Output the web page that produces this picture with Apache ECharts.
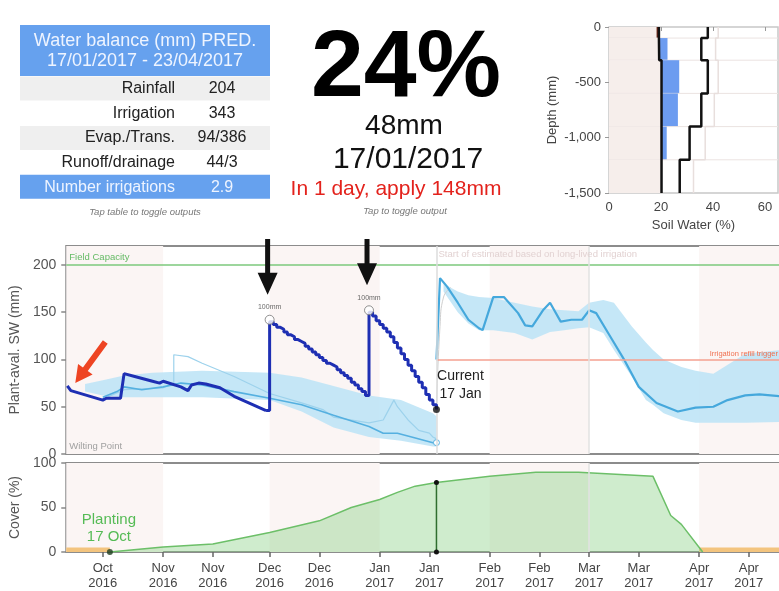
<!DOCTYPE html>
<html><head><meta charset="utf-8">
<script src="https://cdn.jsdelivr.net/npm/echarts@6/dist/echarts.min.js"></script>
<style>html,body{margin:0;padding:0;background:#fff}#c{width:779px;height:591px}</style>
</head><body><div id="c"></div>
<script>
const FONT = '"Liberation Sans", Arial, Helvetica, sans-serif';

// ---------- table ----------
const tableTitle = ['Water balance (mm) PRED.', '17/01/2017 - 23/04/2017'];
const tableLabels = ['Rainfall', 'Irrigation', 'Evap./Trans.', 'Runoff/drainage', 'Number irrigations'];
const tableValues = ['204', '343', '94/386', '44/3', '2.9'];
const tableNote = 'Tap table to toggle outputs';

// ---------- headline ----------
const headlinePct = '24%';
const headlineMm = '48mm';
const headlineDate = '17/01/2017';
const headlineAdvice = 'In 1 day, apply 148mm';
const headlineNote = 'Tap to toggle output';

// ---------- soil profile ----------
const layerTop = [0, 100, 300, 600, 900, 1200];
const layerBottom = [100, 300, 600, 900, 1200, 1500];
const wiltingPct = [19.2, 19.3, 20.2, 20.2, 20.2, 20.2];
const fieldCapPct = [38, 35.5, 38, 35.5, 31, 27.2];
const saturationPct = [42, 41, 42, 40.5, 37, 32.5];
const currentPct = [18.3, 22.5, 27, 26.5, 22.2, 20.2];
const soilWaterTicks = [0, 20, 40, 60];

// ---------- time axis ----------
const dateTicks = ['2016-10-15', '2016-11-01', '2016-11-15', '2016-12-01', '2016-12-15', '2017-01-01',
  '2017-01-15', '2017-02-01', '2017-02-15', '2017-03-01', '2017-03-15', '2017-04-01', '2017-04-15'];
const monthNames = ['Jan', 'Feb', 'Mar', 'Apr', 'May', 'Jun', 'Jul', 'Aug', 'Sep', 'Oct', 'Nov', 'Dec'];
const swTicks = [0, 50, 100, 150, 200];
const currentDate = '2017-01-17';
const plantingDate = '2016-10-17';
const monthBands = [['2016-10-04', '2016-11-01'], ['2016-12-01', '2017-01-01'], ['2017-02-01', '2017-03-01'], ['2017-04-01', '2017-04-25']];
const fallowBands = [['2016-10-04', '2016-10-17'], ['2017-04-01', '2017-04-25']];
const fallowHeight = 5;
const fieldCapacity = 200;
const refillTrigger = 100;

// simulated SW (actual irrigation), before first irrigation
const swEarly = [
  ['2016-10-05', 72], ['2016-10-06', 67], ['2016-10-15', 57], ['2016-10-16', 59], ['2016-10-20', 59],
  ['2016-10-21', 85], ['2016-10-24', 82], ['2016-10-29', 77], ['2016-10-31', 75], ['2016-11-01', 77],
  ['2016-11-06', 71], ['2016-11-08', 67], ['2016-11-09', 73], ['2016-11-11', 75], ['2016-11-13', 74],
  ['2016-11-17', 70], ['2016-11-21', 61], ['2016-11-27', 51], ['2016-11-30', 46]];
// after irrigations (stair-stepped daily)
const swIrrigated = [
  ['2016-11-30', 46], ['2016-12-01', 140], ['2016-12-02', 137], ['2016-12-03', 134], ['2016-12-04', 132],
  ['2016-12-05', 129], ['2016-12-06', 126], ['2016-12-07', 124], ['2016-12-08', 121], ['2016-12-09', 119],
  ['2016-12-10', 117], ['2016-12-11', 114], ['2016-12-12', 111], ['2016-12-13', 108], ['2016-12-14', 105],
  ['2016-12-15', 102], ['2016-12-16', 99], ['2016-12-17', 96], ['2016-12-18', 94], ['2016-12-19', 92],
  ['2016-12-20', 89], ['2016-12-21', 86], ['2016-12-22', 83], ['2016-12-23', 80], ['2016-12-24', 76],
  ['2016-12-25', 73], ['2016-12-26', 69], ['2016-12-27', 66], ['2016-12-28', 62], ['2016-12-29', 150],
  ['2016-12-30', 146], ['2016-12-31', 141], ['2017-01-01', 137], ['2017-01-02', 133], ['2017-01-03', 129],
  ['2017-01-04', 124], ['2017-01-05', 118], ['2017-01-06', 112], ['2017-01-07', 106], ['2017-01-08', 100],
  ['2017-01-09', 94], ['2017-01-10', 88], ['2017-01-11', 82], ['2017-01-12', 76], ['2017-01-13', 70],
  ['2017-01-14', 63], ['2017-01-15', 57], ['2017-01-16', 52], ['2017-01-17', 47]];
const irrigationEvents = [['2016-12-01', 142, '100mm'], ['2016-12-29', 152, '100mm']];
const currentSW = [[currentDate, 47]];

// historical estimates (other seasons)
const histMain = [
  ['2016-10-15', 60], ['2016-10-19', 66], ['2016-10-21', 71], ['2016-10-26', 68], ['2016-11-01', 71],
  ['2016-11-06', 75], ['2016-11-12', 73], ['2016-11-21', 66], ['2016-12-01', 59], ['2016-12-10', 52],
  ['2016-12-19', 41], ['2016-12-29', 29], ['2017-01-02', 22], ['2017-01-06', 22], ['2017-01-10', 18],
  ['2017-01-16', 12], ['2017-01-17', 12]];
const histLight = [
  ['2016-10-15', 58], ['2016-10-21', 68], ['2016-11-01', 70], ['2016-11-04', 75], ['2016-11-04', 105],
  ['2016-11-08', 103], ['2016-11-12', 96], ['2016-11-21', 82], ['2016-12-01', 64], ['2016-12-10', 54],
  ['2016-12-16', 47], ['2016-12-19', 39], ['2016-12-29', 33], ['2017-01-02', 36], ['2017-01-03', 43],
  ['2017-01-05', 57], ['2017-01-06', 50], ['2017-01-09', 36], ['2017-01-12', 25], ['2017-01-15', 22],
  ['2017-01-16', 18], ['2017-01-17', 16]];
// [date, low, high]
const histBand = [
  ['2016-10-10', 66, 74], ['2016-10-15', 62, 78], ['2016-10-21', 60, 83], ['2016-10-29', 60, 86],
  ['2016-11-12', 60, 88], ['2016-12-01', 57, 86], ['2016-12-10', 45, 81], ['2016-12-19', 28, 72],
  ['2016-12-29', 18, 62], ['2017-01-07', 14, 57], ['2017-01-16', 8, 43], ['2017-01-17', 8, 40]];

// forecast
const fcBand = [
  ['2017-01-19', 172, 180], ['2017-01-23', 150, 172], ['2017-01-26', 138, 168], ['2017-01-29', 131, 166],
  ['2017-02-02', 131, 165], ['2017-02-08', 128, 160], ['2017-02-13', 121, 156], ['2017-02-18', 129, 153],
  ['2017-02-22', 131, 152], ['2017-02-26', 133, 151], ['2017-03-01', 134, 160], ['2017-03-05', 128, 163],
  ['2017-03-08', 110, 160], ['2017-03-13', 82, 135], ['2017-03-17', 57, 118], ['2017-03-19', 52, 110],
  ['2017-03-22', 43, 100], ['2017-03-27', 36, 92], ['2017-03-31', 33, 88], ['2017-04-05', 33, 85],
  ['2017-04-14', 33, 106], ['2017-04-24', 34, 110]];
const fcMedian = [
  ['2017-01-17', 100], ['2017-01-18', 186], ['2017-01-20', 177], ['2017-01-23', 160], ['2017-01-26', 142],
  ['2017-01-29', 133], ['2017-01-30', 131], ['2017-02-02', 166], ['2017-02-05', 166], ['2017-02-09', 149],
  ['2017-02-11', 136], ['2017-02-13', 135], ['2017-02-16', 152], ['2017-02-18', 160], ['2017-02-21', 140],
  ['2017-02-24', 142], ['2017-02-27', 142], ['2017-03-01', 152], ['2017-03-03', 149], ['2017-03-07', 124],
  ['2017-03-11', 99], ['2017-03-15', 71], ['2017-03-20', 54], ['2017-03-26', 45], ['2017-03-31', 49],
  ['2017-04-05', 50], ['2017-04-09', 57], ['2017-04-14', 62], ['2017-04-18', 63], ['2017-04-24', 61]];
const fcTransition = [['2017-01-17', 47], ['2017-01-18', 135], ['2017-01-19', 166], ['2017-01-21', 176]];

// crop cover
const coverPct = [
  ['2016-10-17', 0], ['2016-11-01', 5.6], ['2016-11-15', 9], ['2016-12-01', 22], ['2016-12-15', 35],
  ['2016-12-24', 50], ['2017-01-01', 59], ['2017-01-06', 67], ['2017-01-11', 74], ['2017-01-17', 78],
  ['2017-02-01', 85], ['2017-02-14', 89.5], ['2017-02-26', 89.5], ['2017-03-19', 85], ['2017-03-24', 41],
  ['2017-03-27', 31], ['2017-04-02', 0]];
const coverCurrent = [[currentDate, 0], [currentDate, 78]];
const plantingPoint = [[plantingDate, 0]];

// ---------- helpers ----------
function toTs(s) { const p = s.split('-').map(Number); return new Date(p[0], p[1] - 1, p[2]).getTime(); }
const T = arr => arr.map(r => [toTs(r[0])].concat(r.slice(1)));
const xMin = new Date(2016, 9, 4, 17).getTime();
const xMax = new Date(2017, 3, 23, 12).getTime();
const tickTs = dateTicks.map(toTs);
const stepPts = arr => { const pts = []; arr.forEach((v, i) => { pts.push([v, -layerTop[i]]); pts.push([v, -layerBottom[i]]); }); return pts; };
const PINK = '#fbf5f4';

function bandSeries(band, name) {
  return {
    type: 'custom', name, xAxisIndex: 1, yAxisIndex: 1, z: 2, silent: true,
    data: [[toTs(band[0][0]), band[0][1]]],
    renderItem: (params, api) => {
      const up = band.map(r => api.coord([toTs(r[0]), r[2]]));
      const lo = band.slice().reverse().map(r => api.coord([toTs(r[0]), r[1]]));
      return { type: 'polygon', shape: { points: up.concat(lo) }, style: { fill: '#bfe4f6', opacity: 0.9 } };
    }
  };
}

const axisText = { color: '#444', fontFamily: FONT };

const option = {
  animation: false,
  backgroundColor: '#fff',
  grid: [
    { left: 609, top: 27, width: 169, height: 166, show: true, borderColor: '#c8c8c8', borderWidth: 1.5 },
    { left: 63, top: 246, width: 720, height: 208, show: true, borderColor: '#8c8c8c', borderWidth: 2 },
    { left: 63, top: 463, width: 720, height: 90, show: true, borderColor: '#8c8c8c', borderWidth: 2 }
  ],
  xAxis: [
    { gridIndex: 0, type: 'value', min: 0, max: 65, axisLine: { show: false },
      axisTick: { show: true, length: 4, customValues: soilWaterTicks, lineStyle: { color: '#999' } },
      axisLabel: Object.assign({ fontSize: 13, margin: 8, customValues: soilWaterTicks }, axisText),
      splitLine: { show: false }, name: 'Soil Water (%)', nameLocation: 'middle', nameGap: 26,
      nameTextStyle: Object.assign({ fontSize: 13 }, axisText) },
    { gridIndex: 1, type: 'value', min: xMin, max: xMax, axisLine: { show: false }, axisTick: { show: false },
      axisLabel: { show: false }, splitLine: { show: false } },
    { gridIndex: 2, type: 'value', min: xMin, max: xMax, axisLine: { show: false },
      axisTick: { show: true, length: 5, customValues: tickTs, lineStyle: { color: '#666', width: 1.5 } },
      axisLabel: Object.assign({ customValues: tickTs, fontSize: 13, lineHeight: 15, margin: 9, hideOverlap: false,
        formatter: v => { const d = new Date(v); return monthNames[d.getMonth()] + '\n' + d.getFullYear(); } }, axisText),
      splitLine: { show: false } }
  ],
  yAxis: [
    { gridIndex: 0, type: 'value', min: -1500, max: 0, interval: 500, axisLine: { show: false },
      axisTick: { show: true, length: 4, lineStyle: { color: '#999' } },
      axisLabel: Object.assign({ fontSize: 13, margin: 8 }, axisText), splitLine: { show: false },
      name: 'Depth (mm)', nameLocation: 'middle', nameGap: 50, nameTextStyle: Object.assign({ fontSize: 13 }, axisText) },
    { gridIndex: 1, type: 'value', min: 0, max: 220, axisLine: { show: false },
      axisTick: { show: true, length: 5, customValues: swTicks, lineStyle: { color: '#888', width: 1.5 } },
      axisLabel: Object.assign({ fontSize: 14, margin: 10, customValues: swTicks }, axisText, { color: '#555' }),
      splitLine: { show: false }, name: 'Plant-aval. SW (mm)', nameLocation: 'middle', nameGap: 38,
      nameTextStyle: Object.assign({ fontSize: 14 }, axisText, { color: '#555' }) },
    { gridIndex: 2, type: 'value', min: 0, max: 100, interval: 50, axisLine: { show: false },
      axisTick: { show: true, length: 5, lineStyle: { color: '#888', width: 1.5 } },
      axisLabel: Object.assign({ fontSize: 14, margin: 10 }, axisText, { color: '#555' }),
      splitLine: { show: false }, name: 'Cover (%)', nameLocation: 'middle', nameGap: 38,
      nameTextStyle: Object.assign({ fontSize: 14 }, axisText, { color: '#555' }) }
  ],
  series: [
    // soil profile layers
    { type: 'custom', xAxisIndex: 0, yAxisIndex: 0, silent: true, z: 1,
      data: layerTop.map((t, i) => [currentPct[i], -t]),
      renderItem: (params, api) => {
        const i = params.dataIndex;
        const yT = -layerTop[i], yB = -layerBottom[i];
        const a = api.coord([0, yT]), b = api.coord([wiltingPct[i], yB]);
        const ch = [{ type: 'rect', shape: { x: a[0], y: a[1], width: b[0] - a[0], height: b[1] - a[1] }, style: { fill: '#f6eeeb' } }];
        const w = api.coord([wiltingPct[i], yT]), c = api.coord([currentPct[i], yB]);
        const x0 = Math.min(w[0], c[0]), x1 = Math.max(w[0], c[0]);
        ch.push({ type: 'rect', shape: { x: x0, y: w[1], width: x1 - x0, height: c[1] - w[1] },
          style: { fill: currentPct[i] >= wiltingPct[i] ? '#6c9cf0' : '#6b2414' } });
        if (i < layerTop.length - 1) {
          const l = api.coord([0, yB]), r = api.coord([65, yB]);
          ch.push({ type: 'line', shape: { x1: l[0], y1: l[1], x2: r[0], y2: r[1] }, style: { stroke: '#ebe3e1', lineWidth: 1 } });
        }
        return { type: 'group', children: ch };
      } },
    { type: 'line', xAxisIndex: 0, yAxisIndex: 0, data: stepPts(saturationPct), showSymbol: false, silent: true, z: 2,
      lineStyle: { color: '#e8dfdd', width: 1.5 } },
    { type: 'line', xAxisIndex: 0, yAxisIndex: 0, data: stepPts(wiltingPct), showSymbol: false, silent: true, z: 3,
      lineStyle: { color: '#111', width: 2.5 } },
    { type: 'line', xAxisIndex: 0, yAxisIndex: 0, data: stepPts(fieldCapPct), showSymbol: false, silent: true, z: 3,
      lineStyle: { color: '#111', width: 2.5 } },

    // SW chart
    bandSeries(histBand, 'histBand'),
    bandSeries(fcBand, 'fcBand'),
    { type: 'line', xAxisIndex: 1, yAxisIndex: 1, data: T(histLight), showSymbol: false, silent: true, z: 3,
      lineStyle: { color: '#9dd2ec', width: 1.2 },
      markArea: { silent: true, itemStyle: { color: PINK },
        data: monthBands.map(b => [{ xAxis: toTs(b[0]) }, { xAxis: toTs(b[1]) }]) },
      markLine: { silent: true, symbol: 'none', label: { show: false },
        data: [
          { yAxis: fieldCapacity, lineStyle: { color: '#7cc87c', width: 1.5, type: 'solid' } },
          [{ coord: [toTs(currentDate), refillTrigger], lineStyle: { color: '#f4a090', width: 1.5, type: 'solid' } },
           { coord: [xMax, refillTrigger] }],
          { xAxis: toTs(currentDate), lineStyle: { color: '#dcdcdc', width: 1.5, type: 'solid' } },
          { xAxis: toTs('2017-03-01'), lineStyle: { color: '#e2e2e2', width: 1.5, type: 'solid' } }
        ] } },
    { type: 'line', xAxisIndex: 1, yAxisIndex: 1, data: T(histMain), silent: true, z: 3,
      symbol: 'circle', symbolSize: (v, p) => p.dataIndex === histMain.length - 1 ? 6 : 0,
      itemStyle: { color: '#fff', borderColor: '#5ab2e0', borderWidth: 1 },
      lineStyle: { color: '#55b0e0', width: 1.6 } },
    { type: 'line', xAxisIndex: 1, yAxisIndex: 1, data: T(fcTransition), showSymbol: false, silent: true, z: 3, smooth: true,
      lineStyle: { color: '#cfcfcf', width: 1 } },
    { type: 'line', xAxisIndex: 1, yAxisIndex: 1, data: T(fcMedian), showSymbol: false, silent: true, z: 4,
      lineStyle: { color: '#45a8dc', width: 2.2 } },
    { type: 'line', xAxisIndex: 1, yAxisIndex: 1, data: T(swEarly), showSymbol: false, silent: true, z: 5,
      lineStyle: { color: '#1e2fb3', width: 3 } },
    { type: 'line', xAxisIndex: 1, yAxisIndex: 1, data: T(swIrrigated), showSymbol: false, silent: true, z: 5, step: 'end',
      lineStyle: { color: '#1e2fb3', width: 3 } },
    { type: 'scatter', xAxisIndex: 1, yAxisIndex: 1, data: T(irrigationEvents), silent: true, z: 6,
      symbolSize: 9, itemStyle: { color: '#fff', borderColor: '#777', borderWidth: 1 },
      label: { show: true, position: 'top', distance: 4, formatter: p => p.data[2], fontSize: 7, color: '#444', fontFamily: FONT } },
    { type: 'scatter', xAxisIndex: 1, yAxisIndex: 1, data: T(currentSW), silent: true, z: 6,
      symbolSize: 7, itemStyle: { color: '#111' } },

    // cover chart
    { type: 'line', xAxisIndex: 2, yAxisIndex: 2, data: T(coverPct), showSymbol: false, silent: true, z: 2,
      lineStyle: { color: '#6cbf68', width: 1.5 }, areaStyle: { color: 'rgba(130,205,125,0.55)' },
      markArea: { silent: true,
        data: monthBands.map(b => [{ xAxis: toTs(b[0]), itemStyle: { color: PINK } }, { xAxis: toTs(b[1]) }])
          .concat(fallowBands.map(b => [{ coord: [toTs(b[0]), 0], itemStyle: { color: '#f3c47e' } }, { coord: [toTs(b[1]), fallowHeight] }])) },
      markLine: { silent: true, symbol: 'none', label: { show: false },
        data: [{ xAxis: toTs('2017-03-01'), lineStyle: { color: '#e2e2e2', width: 1.5, type: 'solid' } }] } },
    { type: 'line', xAxisIndex: 2, yAxisIndex: 2, data: T(coverCurrent), silent: true, z: 4,
      symbol: 'circle', symbolSize: 5, itemStyle: { color: '#111' }, lineStyle: { color: '#2f6e2f', width: 1.5 } },
    { type: 'scatter', xAxisIndex: 2, yAxisIndex: 2, data: T(plantingPoint), silent: true, z: 4,
      symbolSize: 6, itemStyle: { color: '#1d3b1d' } }
  ]
};

const chart = echarts.init(document.getElementById('c'), null, { renderer: 'canvas' });
chart.setOption(option);

// ---------- annotations ----------
function txt(x, y, text, size, fill, align, extra) {
  return Object.assign({ type: 'text', x, y, z: 100, silent: true,
    style: Object.assign({ text, fontSize: size, fontFamily: FONT, fill, align: align || 'center', verticalAlign: 'middle' }, extra || {}) });
}
const px = (d, v, g) => chart.convertToPixel({ gridIndex: g === undefined ? 1 : g }, [typeof d === 'string' ? toTs(d) : d, v]);
const g = [];
// table
const blue = '#66a1ee';
g.push({ type: 'rect', z: 99, silent: true, shape: { x: 20, y: 25, width: 250, height: 51 }, style: { fill: blue } });
g.push(txt(145, 41, tableTitle[0], 18, '#eef4ff'));
g.push(txt(145, 61, tableTitle[1], 18, '#eef4ff'));
tableLabels.forEach((lab, i) => {
  const y0 = 76.5 + i * 24.7;
  const last = i === tableLabels.length - 1;
  if (last) g.push({ type: 'rect', z: 99, silent: true, shape: { x: 20, y: y0 - 0.5, width: 250, height: 24 }, style: { fill: blue } });
  else if (i % 2 === 0) g.push({ type: 'rect', z: 99, silent: true, shape: { x: 20, y: y0, width: 250, height: 24 }, style: { fill: '#efefef' } });
  const col = last ? '#eef4ff' : '#222';
  g.push(txt(175, y0 + 12, lab, 16, col, 'right'));
  g.push(txt(222, y0 + 12, tableValues[i], 16, col, 'center'));
});
g.push(txt(145, 212, tableNote, 9.5, '#777', 'center', { fontStyle: 'italic' }));
// headline
g.push(txt(406, 70, headlinePct, 95, '#000', 'center', { fontWeight: 'bold' }));
g.push(txt(404, 126, headlineMm, 28, '#111'));
g.push(txt(408, 160, headlineDate, 30, '#111'));
g.push(txt(396, 189, headlineAdvice, 21, '#e3221c'));
g.push(txt(405, 211, headlineNote, 9.5, '#777', 'center', { fontStyle: 'italic' }));

// black arrows over irrigations
irrigationEvents.forEach(ev => {
  const p = px(ev[0], ev[1]);
  const x = p[0] - 2, tip = p[1] - 25, headTop = tip - 22;
  g.push({ type: 'polygon', z: 100, silent: true, shape: { points: [[x - 2.5, 239], [x + 2.5, 239], [x + 2.5, headTop], [x + 10, headTop], [x, tip], [x - 10, headTop], [x - 2.5, headTop]] }, style: { fill: '#111' } });
});
// red arrow to the start of the season
(function () {
  const p = px(swEarly[0][0], swEarly[0][1]);
  const tip = [p[0] + 8, p[1] - 3], tail = [p[0] + 38, p[1] - 44];
  const dx = tail[0] - tip[0], dy = tail[1] - tip[1], L = Math.hypot(dx, dy);
  const ux = dx / L, uy = dy / L, nx = -uy, ny = ux;
  const hb = [tip[0] + ux * 17, tip[1] + uy * 17];
  const pts = [tip, [hb[0] + nx * 9, hb[1] + ny * 9], [hb[0] + nx * 3, hb[1] + ny * 3], [tail[0] + nx * 3, tail[1] + ny * 3],
    [tail[0] - nx * 3, tail[1] - ny * 3], [hb[0] - nx * 3, hb[1] - ny * 3], [hb[0] - nx * 9, hb[1] - ny * 9]];
  g.push({ type: 'polygon', z: 100, silent: true, shape: { points: pts }, style: { fill: '#ee4422' } });
})();
// chart labels
const cur = px(currentDate, currentSW[0][1]);
g.push(txt(cur[0] + 24, cur[1] - 33, 'Current', 14, '#222'));
g.push(txt(cur[0] + 24, cur[1] - 15, '17 Jan', 14, '#222'));
const fc = px(xMin, fieldCapacity);
g.push(txt(fc[0] + 3, fc[1] - 8, 'Field Capacity', 9.5, '#66bb66', 'left'));
const wp = px(xMin, 0);
g.push(txt(wp[0] + 3, wp[1] - 8, 'Wilting Point', 9.5, '#a0a0a0', 'left'));
const trig = px(xMax, refillTrigger);
g.push(txt(778, trig[1] - 6, 'Irrigation refill trigger', 7.5, '#f07050', 'right'));
const cl = px(currentDate, 220);
g.push(txt(cl[0] + 2, cl[1] + 8, 'Start of estimated based on long-lived irrigation', 9.5, '#e2d2d2', 'left'));
const pl = px(plantingDate, 0, 2);
g.push(txt(pl[0] - 1, pl[1] - 32, 'Planting', 15, '#55bb55'));
g.push(txt(pl[0] - 1, pl[1] - 15, '17 Oct', 15, '#55bb55'));

chart.setOption({ graphic: g });
</script></body></html>
